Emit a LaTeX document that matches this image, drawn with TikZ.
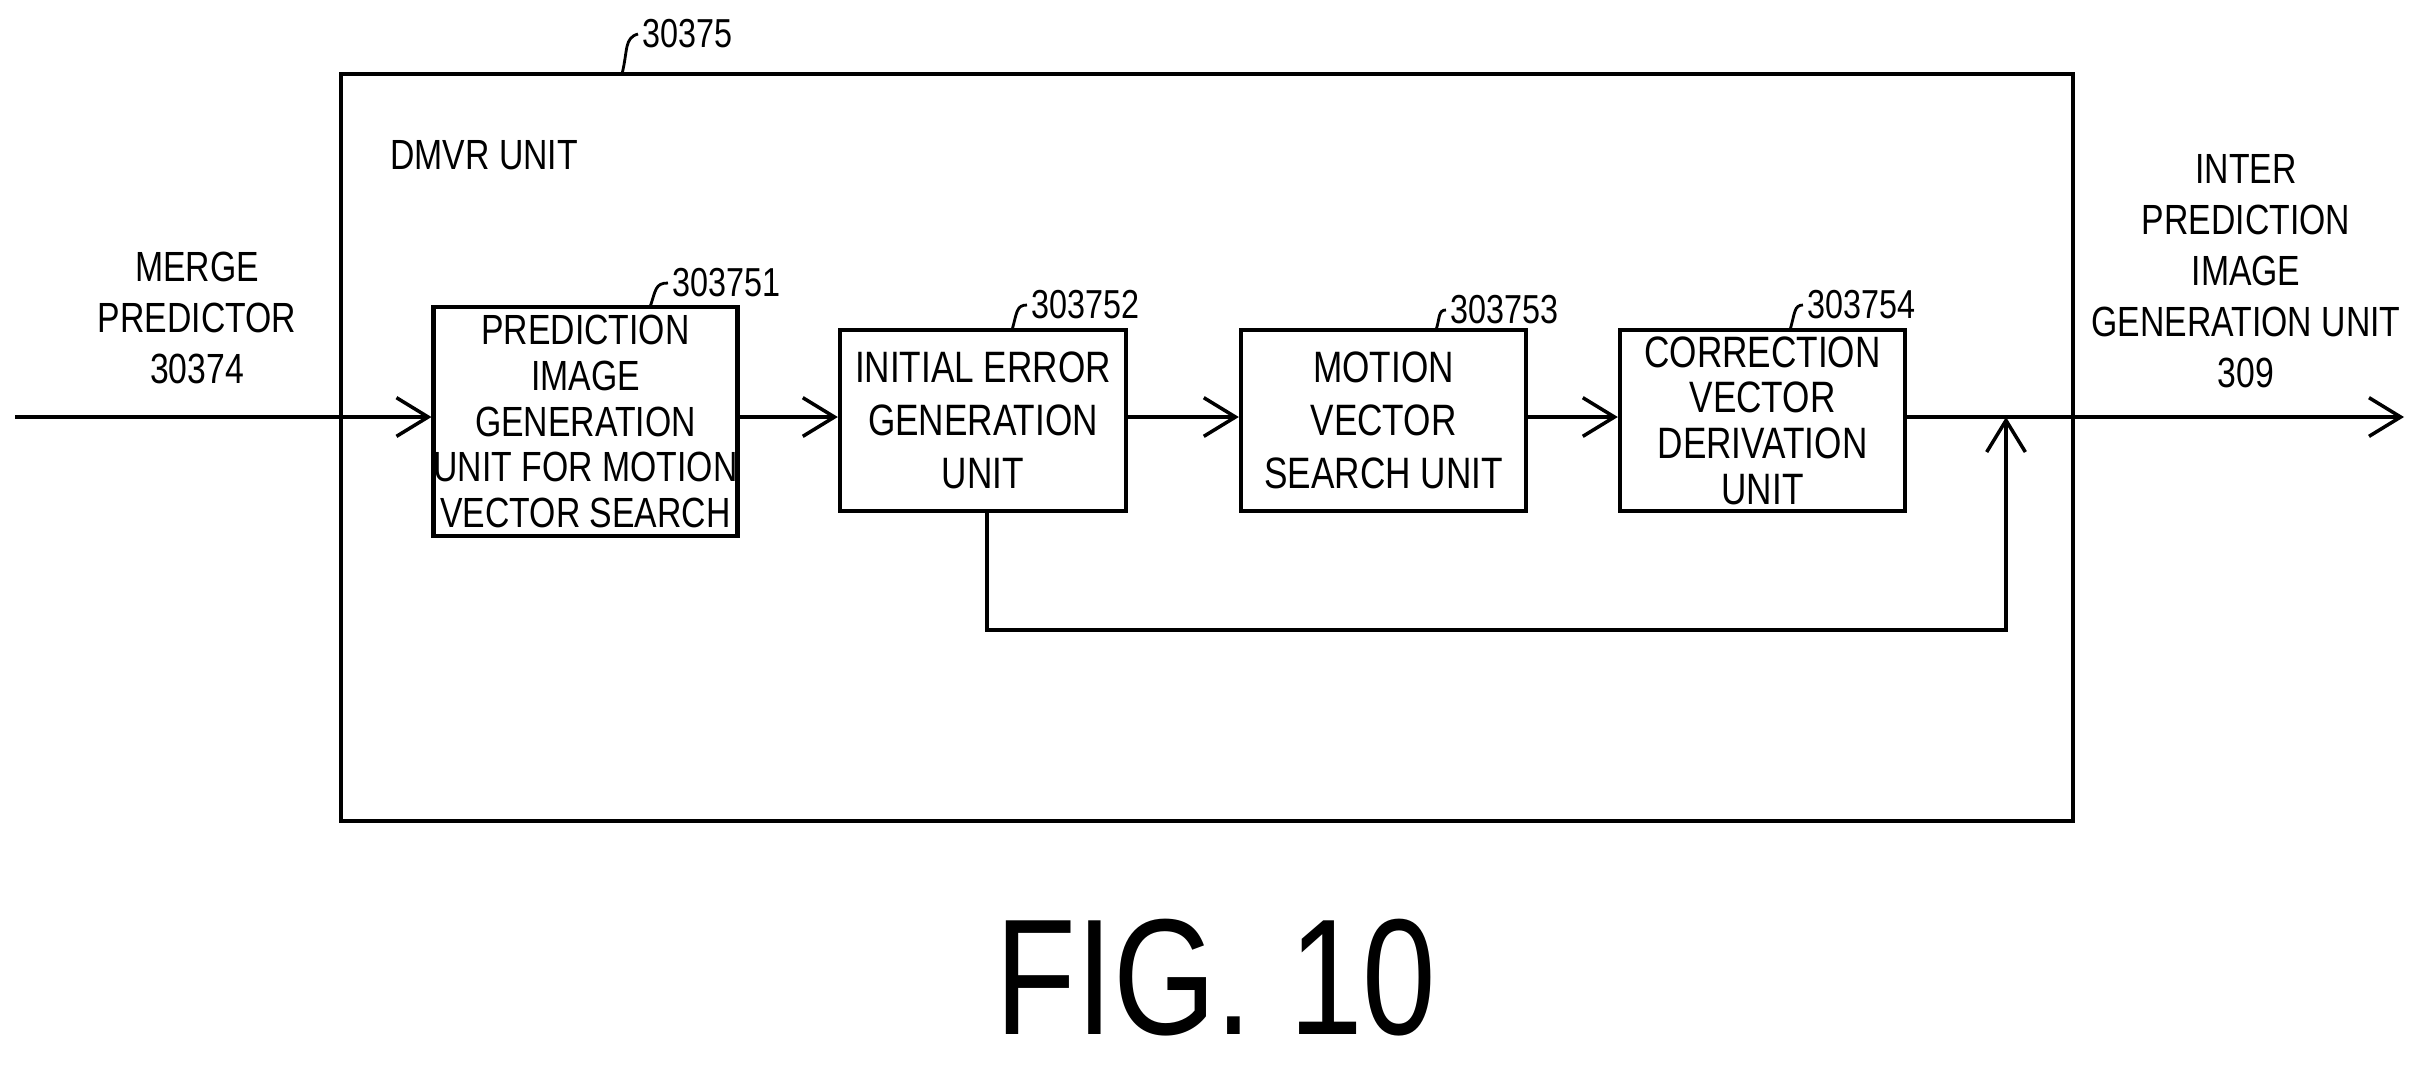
\documentclass[tikz,border=0pt]{standalone}
\usepackage{fontspec}
\setmainfont[FakeStretch=0.8]{Liberation Sans}
\usetikzlibrary{arrows.meta}
\begin{document}
\begin{tikzpicture}[x=0.01cm,y=-0.01cm,
  box/.style={draw,line width=1.2pt,align=center,font=\fontsize{12}{13}\selectfont,inner sep=0pt},
  lbl/.style={align=center,font=\fontsize{12}{14.5}\selectfont},
  num/.style={font=\fontsize{11.5}{12}\selectfont,anchor=west,inner sep=1pt},
  arr/.style={line width=1pt,-{Straight Barb[length=9pt,width=11pt]}},
  lead/.style={line width=0.8pt}]
\useasboundingbox (0,0) rectangle (2428,1066);
\draw[line width=1.2pt] (341,74) rectangle (2073,821);
\node[anchor=west,lbl] (dmvr) at (378,155) {DMVR UNIT};
\node[box,minimum width=2.85cm,minimum height=2.29cm] (b1) at (585.5,421.5) {PREDICTION\\IMAGE\\GENERATION\\UNIT FOR MOTION\\VECTOR SEARCH};
\node[box,minimum width=2.86cm,minimum height=1.81cm,font=\fontsize{12.5}{15}\selectfont] (b2) at (983,420.5) {INITIAL ERROR\\GENERATION\\UNIT};
\node[box,minimum width=2.85cm,minimum height=1.81cm,font=\fontsize{12.5}{15}\selectfont] (b3) at (1383.5,420.5) {MOTION\\VECTOR\\SEARCH UNIT};
\node[box,minimum width=2.85cm,minimum height=1.81cm,font=\fontsize{12.5}{13}\selectfont] (b4) at (1762.5,420.5) {CORRECTION\\VECTOR\\DERIVATION\\UNIT};
\node[lbl] (in) at (197,318) {MERGE\\PREDICTOR\\30374};
\node[lbl] (out) at (2246,271) {INTER\\PREDICTION\\IMAGE\\GENERATION UNIT\\309};
\coordinate (src) at (15,417);
\coordinate (dst) at (2404,417);
\coordinate (j) at (2006,417);
\draw[arr] (src) -- (b1.west |- src);
\draw[arr] (b1.east |- src) -- (b2.west |- src);
\draw[arr] (b2.east |- src) -- (b3.west |- src);
\draw[arr] (b3.east |- src) -- (b4.west |- src);
\draw[arr] (b4.east |- src) -- (dst);
\coordinate (c1) at (987,630);
\coordinate (c2) at (2006,630);
\draw[arr] (b2.south -| c1) -- (c1) -- (c2) -- (j);
\node[num] (n0) at (638,34) {30375};
\draw[lead] (622,74) .. controls (628,50) and (624,38) .. (n0.west);
\node[num] (n1) at (668,283) {303751};
\draw[lead] (650,307) .. controls (656,290) and (655,283) .. (n1.west);
\node[num] (n2) at (1027,305) {303752};
\draw[lead] (1012,330) .. controls (1017,313) and (1016,305) .. (n2.west);
\node[num] (n3) at (1446,310) {303753};
\draw[lead] (1436,330) .. controls (1440,318) and (1438,310) .. (n3.west);
\node[num] (n4) at (1803,305) {303754};
\draw[lead] (1790,330) .. controls (1795,313) and (1794,305) .. (n4.west);
\node[font=\fontsize{47}{50}\selectfont] (fig) at (1216,978) {FIG. 10};
\end{tikzpicture}
\end{document}
